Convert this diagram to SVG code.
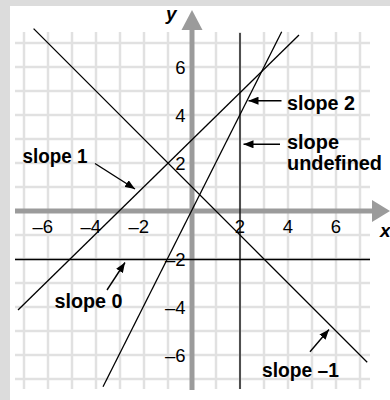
<svg xmlns="http://www.w3.org/2000/svg" width="390" height="400" viewBox="0 0 390 400">
  <defs>
    <marker id="ah" viewBox="0 0 10 8" refX="10" refY="4" markerWidth="10" markerHeight="8" markerUnits="userSpaceOnUse" orient="auto">
      <path d="M0,0 L10,4 L0,8 Z" fill="#000"/>
    </marker>
    <style>
      .grid { stroke: #e1e1e1; stroke-width: 2.5; }
      .axis { stroke: #9b9b9b; stroke-width: 5; fill: none; }
      .ahead { fill: #9b9b9b; }
      .ln { stroke: #000; stroke-width: 1.3; fill: none; }
      .arr { stroke: #000; stroke-width: 1.4; fill: none; marker-end: url(#ah); }
      .num { font-family: "Liberation Sans", Arial, sans-serif; font-size: 18.5px; fill: #000; }
      .lab { font-family: "Liberation Sans", Arial, sans-serif; font-size: 20px; font-weight: bold; fill: #000; }
      .ax { font-family: "Liberation Sans", Arial, sans-serif; font-size: 19px; font-weight: bold; font-style: italic; fill: #000; }
    </style>
  </defs>
  <rect x="0" y="0" width="390" height="400" fill="#dcdcdc"/>
  <rect x="10" y="6" width="380" height="394" fill="#fff"/>

  <g id="grid">
    <path class="grid" d="M24,32V389 M48,32V389 M72,32V389 M96,32V389 M120,32V389 M144,32V389 M168,32V389 M216,32V389 M240,32V389 M264,32V389 M288,32V389 M312,32V389 M336,32V389 M360,32V389"/>
    <path class="grid" d="M15,43H370 M15,67H370 M15,91H370 M15,115H370 M15,139H370 M15,163H370 M15,187H370 M15,235H370 M15,259H370 M15,283H370 M15,307H370 M15,331H370 M15,355H370 M15,379H370"/>
  </g>

  <g id="axes">
    <path class="axis" d="M15,211H373"/>
    <path class="ahead" d="M372,200 L390,211 L372,222 Z"/>
    <path class="axis" d="M192,390V29"/>
    <path class="ahead" d="M181.5,30 L192,10 L202.5,30 Z"/>
    <text class="ax" x="166" y="20">y</text>
    <text class="ax" x="380" y="237">x</text>
  </g>

  <g id="ticks" class="num">
    <text x="53" y="233" text-anchor="end">–6</text>
    <text x="101" y="233" text-anchor="end">–4</text>
    <text x="149" y="233" text-anchor="end">–2</text>
    <text x="245" y="233" text-anchor="end">2</text>
    <text x="293" y="233" text-anchor="end">4</text>
    <text x="341" y="233" text-anchor="end">6</text>
    <text x="185.5" y="74" text-anchor="end">6</text>
    <text x="185.5" y="122" text-anchor="end">4</text>
    <text x="185.5" y="170" text-anchor="end">2</text>
    <text x="185.5" y="266" text-anchor="end">–2</text>
    <text x="185.5" y="314" text-anchor="end">–4</text>
    <text x="185.5" y="362" text-anchor="end">–6</text>
  </g>

  <g id="lines">
    <line id="line-slope-neg1" class="ln" x1="33.6" y1="28.6" x2="367.2" y2="362.2"/>
    <line id="line-slope1" class="ln" x1="18" y1="310" x2="299" y2="35"/>
    <line id="line-slope2" class="ln" x1="103" y1="386.7" x2="281.7" y2="31.7"/>
    <line id="line-slope0" class="ln" x1="15" y1="259.5" x2="370" y2="259.5"/>
    <line id="line-undefined" class="ln" x1="240" y1="33" x2="240" y2="389"/>
  </g>

  <g id="connectors">
    <line class="arr" x1="95" y1="163.5" x2="135" y2="189"/>
    <line class="arr" x1="281.5" y1="100.7" x2="248.5" y2="100.7"/>
    <line class="arr" x1="280" y1="144.3" x2="243.5" y2="144.3"/>
    <line class="arr" x1="107" y1="290" x2="125" y2="262.5"/>
    <line class="arr" x1="310" y1="351.7" x2="329" y2="329.5"/>
  </g>

  <g id="label-slope1"><text class="lab" x="22.5" y="163" textLength="65" lengthAdjust="spacingAndGlyphs">slope 1</text></g>
  <g id="label-slope2"><text class="lab" x="287" y="110" textLength="68" lengthAdjust="spacingAndGlyphs">slope 2</text></g>
  <g id="label-undefined">
    <text class="lab" x="287" y="149" textLength="52" lengthAdjust="spacingAndGlyphs">slope</text>
    <text class="lab" x="287" y="170" textLength="95" lengthAdjust="spacingAndGlyphs">undefined</text>
  </g>
  <g id="label-slope0"><text class="lab" x="54.5" y="308" textLength="68" lengthAdjust="spacingAndGlyphs">slope 0</text></g>
  <g id="label-slopeneg1"><text class="lab" x="262" y="377" textLength="77" lengthAdjust="spacingAndGlyphs">slope –1</text></g>
</svg>
